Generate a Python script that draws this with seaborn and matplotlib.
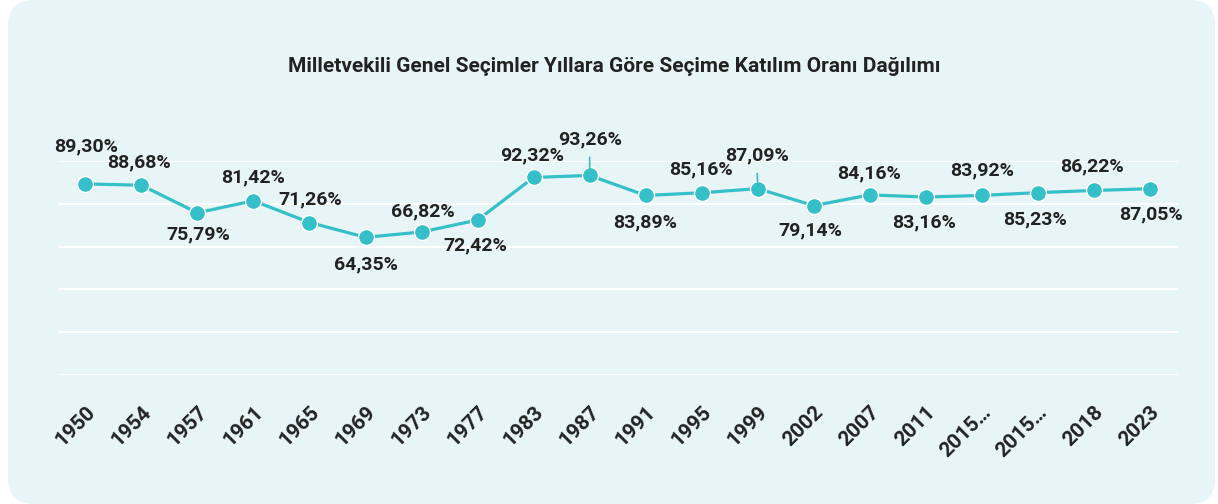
import matplotlib.pyplot as plt
from matplotlib.patches import FancyBboxPatch
import numpy as np
import pandas as pd
import seaborn as sns

# chart data
years = ['1950', '1954', '1957', '1961', '1965', '1969', '1973', '1977', '1983', '1987',
         '1991', '1995', '1999', '2002', '2007', '2011', '2015…', '2015…', '2018', '2023']
turnout = [89.30, 88.68, 75.79, 81.42, 71.26, 64.35, 66.82, 72.42, 92.32, 93.26,
           83.89, 85.16, 87.09, 79.14, 84.16, 83.16, 83.92, 85.23, 86.22, 87.05]
title = 'Milletvekili Genel Seçimler Yıllara Göre Seçime Katılım Oranı Dağılımı'

# label placement (pixel offsets from each point), leader lines for the crowded ones
label_dx = [1, -2, 1, 0, 1, 0, 1, -2, -1, 0, -1, -1, -1, -3, -1, -2, 0, -3, -2, 1]
label_dy = [37, 23, -22, 23, 23, -27, 21, -25, 22, 36, -27, 23, 33, -25, 21, -25, 25, -27, 24, -26]
leader = [False] * 20
leader[9] = True
leader[12] = True

bg = '#e7f5f6'
teal = '#35bfc9'
ink = '#222222'

sns.set_style('white')
plt.rcParams['font.family'] = ['Roboto', 'DejaVu Sans']

df = pd.DataFrame({'idx': np.arange(len(years)), 'turnout': turnout})

fig = plt.figure(figsize=(12.18, 5.04), dpi=100, facecolor='white')
card = FancyBboxPatch((8 / 1218, 0.0), 1207 / 1218, 1.0,
                      boxstyle='round,pad=0,rounding_size=0.021',
                      mutation_aspect=1218 / 504,
                      transform=fig.transFigure, facecolor=bg, edgecolor='none', zorder=-1)
fig.patches.append(card)

ax = fig.add_axes([59 / 1218, (504 - 375) / 504, (1178 - 59) / 1218, (375 - 161) / 504])
ax.set_zorder(2)
ax.patch.set_alpha(0)

sns.lineplot(data=df, x='idx', y='turnout', ax=ax, color=teal, linewidth=2.3,
             marker='o', markersize=11.5, markeredgecolor='white', markeredgewidth=1.0,
             clip_on=False, zorder=3)

ax.set_ylim(0, 100)
ax.set_xlim(-0.47, len(years) - 0.5)
ax.set_yticks([0, 20, 40, 60, 80, 100])
ax.yaxis.grid(True, color='white', linewidth=1.5)
ax.set_axisbelow(True)
ax.set_yticklabels([])
ax.tick_params(axis='y', length=0)
for s in ax.spines.values():
    s.set_visible(False)

ax.set_xticks(np.arange(len(years)))
ax.set_xticklabels(years, rotation=45, ha='right', rotation_mode='anchor',
                   fontsize=15, fontweight='bold', color=ink)
ax.tick_params(axis='x', length=0, pad=20)
ax.set_xlabel('')
ax.set_ylabel('')

for i, v in enumerate(turnout):
    txt = f'{v:.2f}'.replace('.', ',') + '%'
    kw = dict(xy=(i, v), xytext=(label_dx[i], label_dy[i]), textcoords='offset pixels',
              ha='center', va='center', fontsize=14, fontweight='bold', color=ink,
              annotation_clip=False, zorder=4)
    if leader[i]:
        kw['arrowprops'] = dict(arrowstyle='-', color=teal, lw=1.2, shrinkA=4, shrinkB=5)
    ax.annotate(txt, **kw)

fig.text(614 / 1218, 1 - 67 / 504, title, ha='center', va='center',
         fontsize=15, fontweight='bold', color=ink)

fig.savefig('out.png', dpi=100, facecolor='white')
